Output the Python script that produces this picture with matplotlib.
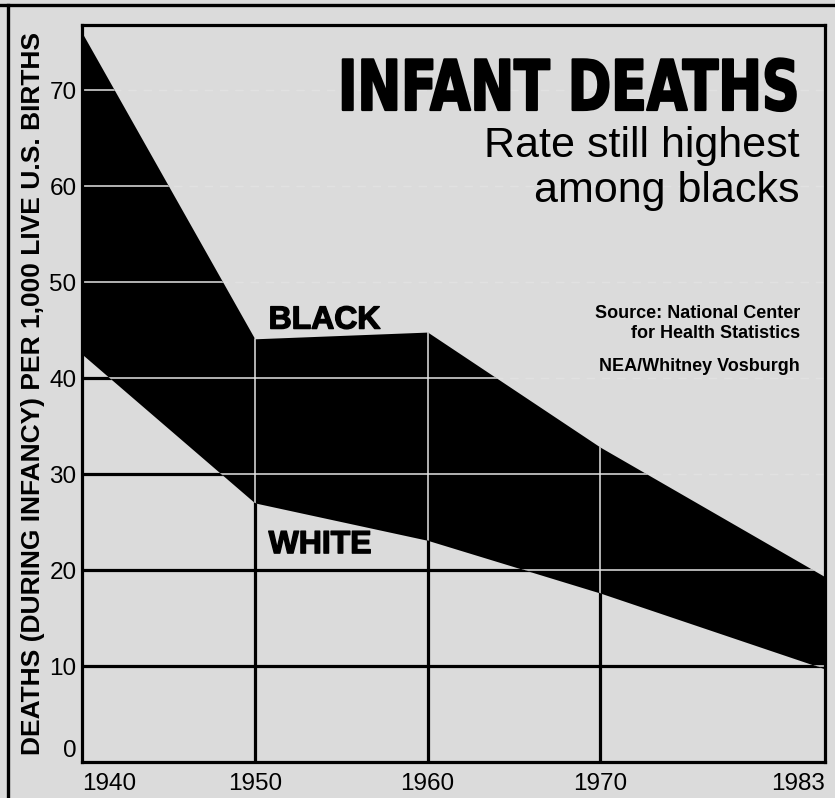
import matplotlib
matplotlib.use("Agg")
import matplotlib.pyplot as plt
from matplotlib.lines import Line2D
from matplotlib.patheffects import AbstractPathEffect
from matplotlib.transforms import Affine2D

years = [1940, 1950, 1960, 1970, 1983]
black_rate = [76.0, 44.1, 44.8, 32.8, 19.3]
white_rate = [42.5, 27.0, 23.1, 17.6, 9.7]
y_ticks = [0, 10, 20, 30, 40, 50, 60, 70]
x_ticks = [1940, 1950, 1960, 1970, 1983]
x_grid = [1950, 1960, 1970]

BG = "#dbdbdb"
FONT = ["Liberation Sans", "DejaVu Sans"]
plt.rcParams["font.family"] = FONT


class Squeeze(AbstractPathEffect):
    """Draw glyphs compressed horizontally about a fixed x (figure fraction)
    and slightly emboldened with a stroke."""
    def __init__(self, fig, anchor_fx=None, sx=1.0, lw=0.0):
        super().__init__()
        self.fig = fig
        self.anchor_fx = anchor_fx
        self.sx = sx
        self.lw = lw

    def draw_path(self, renderer, gc, tpath, affine, rgbFace=None):
        if self.anchor_fx is None:
            aff = Affine2D().scale(self.sx, 1.0) + affine
        else:
            xr = self.fig.transFigure.transform((self.anchor_fx, 0))[0]
            aff = affine + Affine2D().translate(-xr, 0).scale(self.sx, 1.0).translate(xr, 0)
        gc0 = renderer.new_gc()
        gc0.copy_properties(gc)
        gc0.set_linewidth(self.lw)
        if rgbFace is not None:
            gc0.set_foreground(rgbFace)
        renderer.draw_path(gc0, tpath, aff, rgbFace)
        gc0.restore()


fig = plt.figure(figsize=(8.35, 7.98), dpi=100, facecolor=BG)
ax = fig.add_axes([82/835, 36/798, 743/835, 737/798])
ax.set_facecolor(BG)
ymax = 76.8
ax.set_xlim(1940, 1983)
ax.set_ylim(0, ymax)

# regions
below = ax.fill_between(years, 0, white_rate, color=BG, lw=0, zorder=1)
band = ax.fill_between(years, white_rate, black_rate, color="black", lw=0, zorder=2)
above = ax.fill_between(years, black_rate, ymax, color=BG, lw=0, zorder=1)

below_path = below.get_paths()[0]
band_path = band.get_paths()[0]
above_path = above.get_paths()[0]

for y in y_ticks[1:]:
    l1 = ax.axhline(y, color="black", lw=2.3, zorder=3)
    l1.set_clip_path(below_path, ax.transData)
    l2 = ax.axhline(y, color="#e4e4e4", lw=1.1, zorder=3)
    l2.set_clip_path(band_path, ax.transData)
    l3 = ax.axhline(y, color="#f2f2f2", lw=1.0, ls=(0, (6, 5)), alpha=0.3, zorder=3)
    l3.set_clip_path(above_path, ax.transData)
for x in x_grid:
    l1 = ax.axvline(x, color="black", lw=2.3, zorder=3)
    l1.set_clip_path(below_path, ax.transData)
    l2 = ax.axvline(x, color="#e4e4e4", lw=1.1, zorder=3)
    l2.set_clip_path(band_path, ax.transData)

for s in ax.spines.values():
    s.set_linewidth(2.3)
    s.set_color("black")
    s.set_zorder(5)

ax.set_yticks(y_ticks)
ax.set_yticklabels([str(v) for v in y_ticks])
ax.set_xticks(x_ticks)
ax.set_xticklabels([str(v) for v in x_ticks])
ax.tick_params(length=0, labelsize=17.5, colors="black")
ax.tick_params(axis="y", pad=4)
ax.tick_params(axis="x", pad=8)
yl = ax.get_yticklabels()
yl[0].set_verticalalignment("bottom")
xl = ax.get_xticklabels()
xl[0].set_horizontalalignment("left")
xl[-1].set_horizontalalignment("right")

ax.set_ylabel("DEATHS (DURING INFANCY) PER 1,000 LIVE U.S. BIRTHS",
              fontsize=19, fontweight="bold")
ax.yaxis.set_label_coords(-0.0495, 0.5)

# titles
fig.text(800/835, 1 - 110/798, "INFANT DEATHS", ha="right", va="baseline",
         fontsize=50, fontweight="heavy", fontstretch="condensed",
         family=["DejaVu Sans"],
         path_effects=[Squeeze(fig, 800/835, 0.835, 1.6)])
fig.text(800/835, 1 - 157/798, "Rate still highest", ha="right", va="baseline",
         fontsize=31)
fig.text(800/835, 1 - 202/798, "among blacks", ha="right", va="baseline",
         fontsize=31)

fig.text(800/835, 1 - 318/798, "Source: National Center", ha="right",
         va="baseline", fontsize=13, fontweight="bold")
fig.text(800/835, 1 - 338/798, "for Health Statistics", ha="right",
         va="baseline", fontsize=13, fontweight="bold")
fig.text(800/835, 1 - 371/798, "NEA/Whitney Vosburgh", ha="right",
         va="baseline", fontsize=13, fontweight="bold")

ax.text(1950.8, 46.0, "BLACK", ha="left", va="center", fontsize=23,
        fontweight="bold", zorder=6, path_effects=[Squeeze(fig, None, 1.0, 1.0)])
ax.text(1950.8, 22.6, "WHITE", ha="left", va="center", fontsize=23,
        fontweight="bold", zorder=6, path_effects=[Squeeze(fig, None, 1.0, 1.0)])

# outer frame lines
fig.add_artist(Line2D([0, 1], [1 - 5/798, 1 - 5/798], color="black", lw=2.4,
                      transform=fig.transFigure))
fig.add_artist(Line2D([8/835, 8/835], [0, 1 - 5/798], color="black", lw=2.4,
                      transform=fig.transFigure))

fig.savefig("out.png", dpi=100, facecolor=BG)
